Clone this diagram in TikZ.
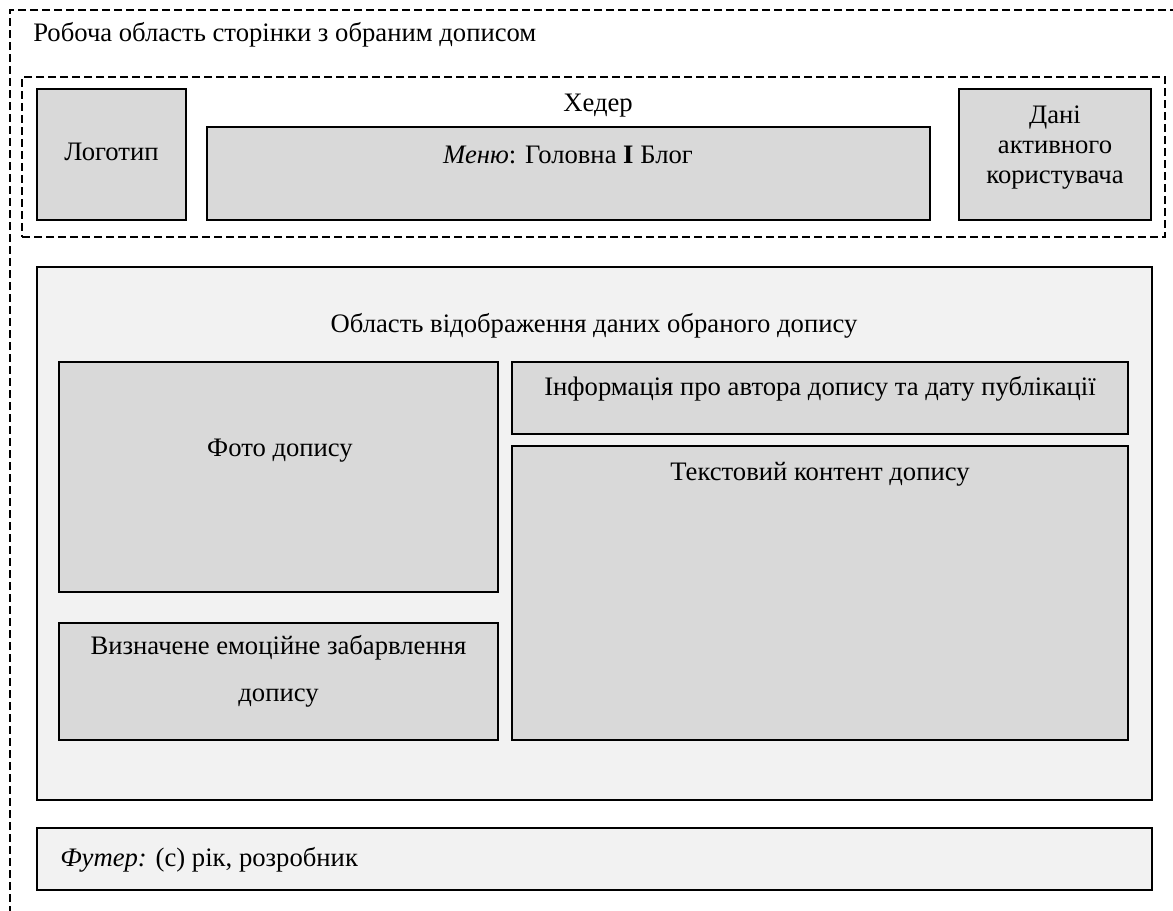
\documentclass[tikz,border=0pt]{standalone}
\usepackage{fontspec}
\setmainfont{Liberation Serif}
\usetikzlibrary{positioning}
\definecolor{boxgray}{HTML}{D9D9D9}
\definecolor{areagray}{HTML}{F2F2F2}
\tikzset{
  block/.style={shape=rectangle, draw, line width=1.2pt, fill=boxgray, inner sep=0pt},
  area/.style={block, fill=areagray},
  zone/.style={shape=rectangle, draw, line width=0.8pt, dash pattern=on 6pt off 3pt, inner sep=0pt},
  caption/.style={inner sep=0pt, font=\fontsize{20}{22.5}\selectfont, align=center}
}

\begin{document}
\begin{tikzpicture}[x=0.75pt, y=-0.75pt]
  \clip (0,0) rectangle (1173,910);
  % working area of the page (only top and left edges are in view)
  \draw[line width=0.8pt, dash pattern=on 6pt off 3pt] (1190,10) -| (10,930);
  \node[caption, anchor=west] (page) at (33,35) {Робоча область сторінки з обраним дописом};

  % header
  \node[zone, minimum width=857.25pt, minimum height=120pt] (header) at (593.5,157) {};
  \node[block, minimum width=111.75pt, minimum height=98.25pt] (logo) at (111.5,154.5) {};
  \node[block, minimum width=542.25pt, minimum height=69.75pt] (menu) at (568.5,173.5) {};
  \node[block, minimum width=144pt, minimum height=98.25pt] (user) at (1055,154.5) {};
  \node[caption] (headertxt) at (598,106) {Хедер};
  \node[caption] (logotxt) at (111.5,152) {Логотип};
  \node[caption] (menutxt) at (568,155) {\textit{Меню}: Головна \textbf{І} Блог};
  \node[caption] (usertxt) at (1055,148) {Дані\\активного\\користувача};

  % post area
  \node[area, minimum width=836.25pt, minimum height=399.75pt] (post) at (594.5,533.5) {};
  \node[caption] (posttxt) at (594,326) {Область відображення даних обраного допису};
  \node[block, minimum width=329.25pt, minimum height=172.5pt] (photo) at (278.5,477) {};
  \node[block, minimum width=329.25pt, minimum height=87.75pt] (mood) at (278.5,681.5) {};
  \node[block, minimum width=462pt, minimum height=54pt] (info) at (820,398) {};
  \node[block, minimum width=462pt, minimum height=220.5pt] (content) at (820,593) {};
  \node[caption] (phototxt) at (280,451) {Фото допису};
  \node[caption] (moodtxt) at (278.5,671.5) {Визначене емоційне забарвлення\\[12.75pt]допису};
  \node[caption] (infotxt) at (820,389) {Інформація про автора допису та дату публікації};
  \node[caption] (contenttxt) at (820,474) {Текстовий контент допису};

  % footer
  \node[area, minimum width=836.25pt, minimum height=46.5pt] (footer) at (594.5,859) {};
  \node[caption, anchor=west] (footertxt) at (60,860) {\textit{Футер:} (с) рік, розробник};
\end{tikzpicture}
\end{document}
